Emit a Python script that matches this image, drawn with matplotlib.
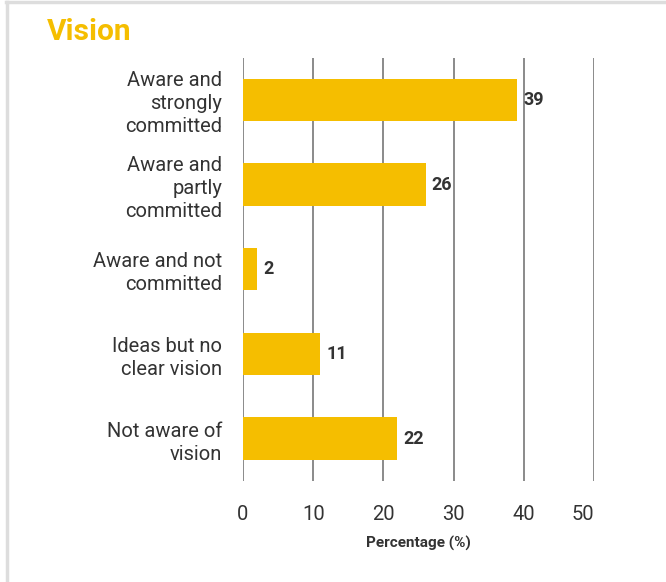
import numpy as np
import matplotlib.pyplot as plt
from matplotlib.lines import Line2D

plt.rcParams['font.family'] = ['Roboto', 'DejaVu Sans']

# data
categories = ['Aware and\nstrongly\ncommitted', 'Aware and\npartly\ncommitted',
              'Aware and not\ncommitted', 'Ideas but no\nclear vision',
              'Not aware of\nvision']
values = [39, 26, 2, 11, 22]
ticks = [0, 10, 20, 30, 40, 50]

bar_color = '#F5BE00'
text_color = '#333333'

fig = plt.figure(figsize=(6.66, 5.82), dpi=100)
ax = fig.add_axes([243/666, 1 - 481/582, (594 - 243)/666, (481 - 57.5)/582])

y = np.arange(len(categories))
ax.barh(y, values, height=0.5, color=bar_color, zorder=3)
for yi, v in zip(y, values):
    ax.text(v + 0.9, yi, str(v), va='center', ha='left', fontsize=13,
            fontweight='bold', color=text_color)

ax.set_xlim(0, 50)
ax.set_ylim(len(categories) - 0.5, -0.5)
ax.set_yticks(y)
ax.set_yticklabels(categories, fontsize=14.5, color=text_color, linespacing=1.27)
ax.set_xticks(ticks)
ax.set_xticklabels([str(t) for t in ticks], fontsize=14.5, color=text_color)
ax.get_xticklabels()[-1].set_horizontalalignment('right')
ax.tick_params(axis='y', length=0, pad=15)
ax.tick_params(axis='x', length=0, pad=17)

for t in ticks:
    ax.axvline(t, color='#777777', lw=1.2, zorder=1)
for s in ax.spines.values():
    s.set_visible(False)

ax.set_xlabel('Percentage (%)', fontsize=11, fontweight='bold',
              color=text_color, labelpad=9)

fig.text(47/666, 1 - 32/582, 'Vision', fontsize=21.5, fontweight='bold',
         color=bar_color, va='center', ha='left')

# light frame on top and left
fig.add_artist(Line2D([6/666, 1], [1 - 2/582, 1 - 2/582], color='#DDDDDD', lw=2.5))
fig.add_artist(Line2D([6.5/666, 6.5/666], [0, 1 - 2/582], color='#DDDDDD', lw=2.5))

fig.savefig('out.png', dpi=100)
